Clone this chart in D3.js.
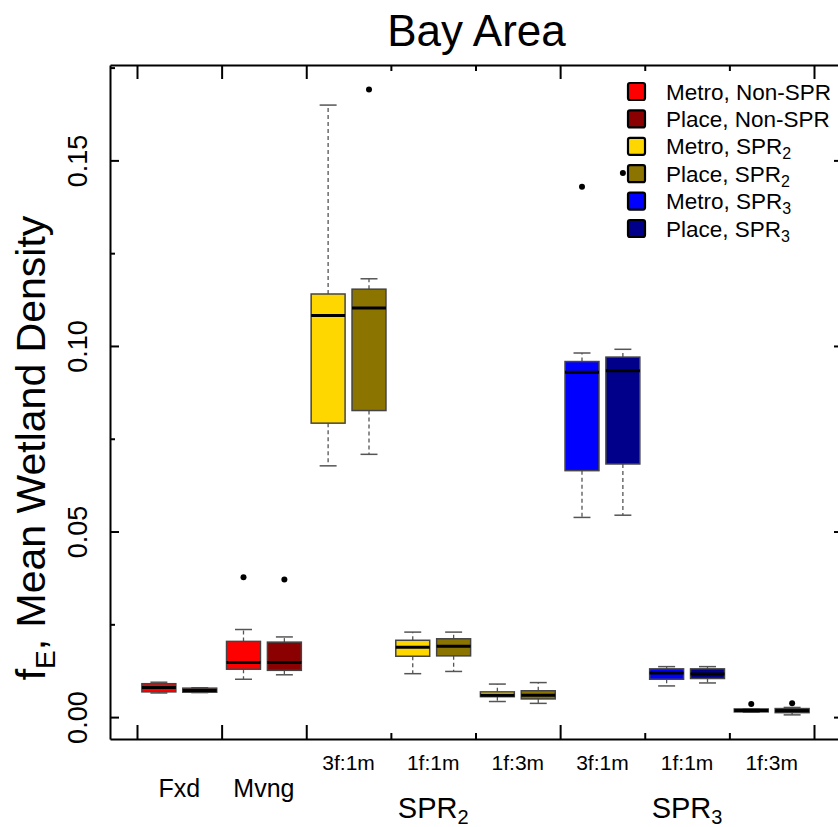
<!DOCTYPE html>
<html lang="en">
<head>
    <meta charset="UTF-8">
    <title>Bay Area</title>
    <script src="https://d3js.org/d3.v7.min.js"></script>
    <style>
        body, html {
            margin: 0;
            padding: 0;
            background: #fff;
            font-family: "Liberation Sans", Arial, sans-serif;
            overflow: hidden;
        }
    </style>
</head>
<body>
    <div id="chart"></div>

    <script>
        // groups along x (two boxes per group: Metro, Place)
        const groupIds = ["Fxd", "Mvng", "S2_3f1m", "S2_1f1m", "S2_1f3m", "S3_3f1m", "S3_1f1m", "S3_1f3m"];
        const groupLabels = ["Fxd", "Mvng", "3f:1m", "1f:1m", "1f:3m", "3f:1m", "1f:1m", "1f:3m"];
        const seriesNames = ["Metro", "Place"];

        // [lower whisker, q1, median, q3, upper whisker]
        const metroBox = [
            [0.0065, 0.0068, 0.0080, 0.0090, 0.0094],
            [0.0102, 0.0129, 0.0147, 0.0204, 0.0236],
            [0.0677, 0.0792, 0.1082, 0.1140, 0.1649],
            [0.0117, 0.0164, 0.0188, 0.0207, 0.0229],
            [0.0042, 0.0055, 0.0059, 0.0068, 0.0089],
            [0.0538, 0.0664, 0.0929, 0.0958, 0.0981],
            [0.0084, 0.0102, 0.0119, 0.0130, 0.0136],
            [0.0013, 0.0014, 0.0018, 0.0022, 0.0022]
        ];
        const placeBox = [
            [0.0066, 0.0067, 0.0072, 0.0078, 0.0079],
            [0.0114, 0.0126, 0.0147, 0.0202, 0.0216],
            [0.0708, 0.0826, 0.1102, 0.1153, 0.1181],
            [0.0123, 0.0165, 0.0191, 0.0211, 0.0229],
            [0.0037, 0.0049, 0.0059, 0.0071, 0.0093],
            [0.0544, 0.0682, 0.0933, 0.0970, 0.0991],
            [0.0092, 0.0104, 0.0116, 0.0130, 0.0136],
            [0.0006, 0.0012, 0.0017, 0.0023, 0.0026]
        ];
        const metroOutliers = [[], [0.0377], [], [], [], [0.1429], [], [0.0035]];
        const placeOutliers = [[], [0.0371], [0.1691], [], [], [0.1466], [], [0.0037]];

        const metroColors = ["#FF0000", "#FF0000", "#FFD700", "#FFD700", "#FFD700", "#0000FF", "#0000FF", "#0000FF"];
        const placeColors = ["#8B0000", "#8B0000", "#8B7500", "#8B7500", "#8B7500", "#00008B", "#00008B", "#00008B"];

        const majorTicks = [0, 0.05, 0.10, 0.15];
        const minorTicks = [0.025, 0.075, 0.125, 0.175];

        const legendItems = [
            {name: "Metro, Non-SPR", sub: "", color: "#FF0000"},
            {name: "Place, Non-SPR", sub: "", color: "#8B0000"},
            {name: "Metro, SPR", sub: "2", color: "#FFD700"},
            {name: "Place, SPR", sub: "2", color: "#8B7500"},
            {name: "Metro, SPR", sub: "3", color: "#0000FF"},
            {name: "Place, SPR", sub: "3", color: "#00008B"}
        ];

        const width = 838, height = 827;
        const frame = {left: 110, right: 843, top: 65, bottom: 739};

        const svg = d3.select("#chart").append("svg")
            .attr("width", width)
            .attr("height", height);

        const x0 = d3.scaleBand().domain(groupIds).range([137, 814]);
        const x1 = d3.scaleBand().domain(seriesNames)
            .range([0, x0.bandwidth()])
            .paddingInner(0.17)
            .paddingOuter(0.12);
        const y = d3.scaleLinear().domain([-0.0059, 0.1757]).range([frame.bottom, frame.top]);
        const xf = d3.scaleLinear().domain([frame.left, frame.right]).range([frame.left, frame.right]);

        // title
        svg.append("text")
            .attr("x", (frame.left + frame.right) / 2)
            .attr("y", 46)
            .attr("text-anchor", "middle")
            .style("font-size", "44px")
            .text("Bay Area");

        // ---- axes ----
        function styleAxis(g) {
            g.selectAll("path.domain").attr("stroke", "#000").attr("stroke-width", 2);
            g.selectAll(".tick line").attr("stroke", "#000").attr("stroke-width", 2);
        }

        const yAxis = svg.append("g")
            .attr("transform", `translate(${frame.left},0)`)
            .call(d3.axisLeft(y).tickValues(majorTicks).tickSize(-9).tickSizeOuter(0)
                .tickFormat(d3.format(".2f")))
            .call(styleAxis);
        yAxis.selectAll(".tick text")
            .attr("dy", null)
            .attr("transform", "rotate(-90)")
            .attr("x", 0)
            .attr("y", -23)
            .attr("text-anchor", "middle")
            .attr("fill", "#000")
            .style("font-size", "27px")
            .style("font-family", "'Liberation Sans', Arial, sans-serif");

        svg.append("g")
            .attr("transform", `translate(${frame.left},0)`)
            .call(d3.axisLeft(y).tickValues(minorTicks).tickSize(-5).tickFormat(""))
            .call(g => g.select(".domain").remove())
            .call(styleAxis);

        // right axis (mirrored, sits just past the edge)
        svg.append("g")
            .attr("transform", `translate(${frame.right},0)`)
            .call(d3.axisRight(y).tickValues(majorTicks).tickSize(-9).tickSizeOuter(0).tickFormat(""))
            .call(styleAxis);
        svg.append("g")
            .attr("transform", `translate(${frame.right},0)`)
            .call(d3.axisRight(y).tickValues(minorTicks).tickSize(-5).tickFormat(""))
            .call(g => g.select(".domain").remove())
            .call(styleAxis);

        // group boundaries on top and bottom
        const bounds = groupIds.map(g => x0(g)).concat([x0.range()[1]]);
        const tallIdx = [0, 1, 2, 5, 8];
        const tallBounds = bounds.filter((b, i) => tallIdx.includes(i));
        const shortBounds = bounds.filter((b, i) => !tallIdx.includes(i));

        [[d3.axisBottom, frame.bottom], [d3.axisTop, frame.top]].forEach(([axisFn, yy]) => {
            svg.append("g")
                .attr("transform", `translate(0,${yy})`)
                .call(axisFn(xf).tickValues(tallBounds).tickSize(-14).tickSizeOuter(0).tickFormat(""))
                .call(styleAxis);
            svg.append("g")
                .attr("transform", `translate(0,${yy})`)
                .call(axisFn(xf).tickValues(shortBounds).tickSize(-6).tickFormat(""))
                .call(g => g.select(".domain").remove())
                .call(styleAxis);
        });

        // x labels
        const subLabelIdx = [2, 3, 4, 5, 6, 7];
        svg.append("g").selectAll("text")
            .data(subLabelIdx)
            .join("text")
            .attr("x", i => x0(groupIds[i]) + x0.bandwidth() / 2)
            .attr("y", 770)
            .attr("text-anchor", "middle")
            .style("font-size", "21px")
            .text(i => groupLabels[i]);

        svg.append("g").selectAll("text")
            .data([0, 1])
            .join("text")
            .attr("x", i => x0(groupIds[i]) + x0.bandwidth() / 2)
            .attr("y", 797)
            .attr("text-anchor", "middle")
            .style("font-size", "25px")
            .text(i => groupLabels[i]);

        [["S2_1f1m", "2"], ["S3_1f1m", "3"]].forEach(([g, sub]) => {
            const t = svg.append("text")
                .attr("x", x0(g) + x0.bandwidth() / 2)
                .attr("y", 818)
                .attr("text-anchor", "middle")
                .style("font-size", "29px");
            t.append("tspan").text("SPR");
            t.append("tspan").attr("dy", 6).style("font-size", "20px").text(sub);
        });

        // y label
        const yl = svg.append("text")
            .attr("transform", "translate(45,448) rotate(-90)")
            .attr("text-anchor", "middle")
            .style("font-size", "41px");
        yl.append("tspan").text("f");
        yl.append("tspan").attr("dy", 10).style("font-size", "28px").text("E");
        yl.append("tspan").attr("dy", -10).text(", Mean Wetland Density");

        // ---- boxes ----
        const boxData = [];
        groupIds.forEach((g, gi) => {
            boxData.push({group: g, series: "Metro", s: metroBox[gi], out: metroOutliers[gi], color: metroColors[gi]});
            boxData.push({group: g, series: "Place", s: placeBox[gi], out: placeOutliers[gi], color: placeColors[gi]});
        });

        const bw = x1.bandwidth();
        const boxes = svg.append("g").selectAll("g")
            .data(boxData)
            .join("g")
            .attr("transform", d => `translate(${x0(d.group) + x1(d.series)},0)`);

        // whiskers
        boxes.append("line")
            .attr("x1", bw / 2).attr("x2", bw / 2)
            .attr("y1", d => y(d.s[3])).attr("y2", d => y(d.s[4]))
            .attr("stroke", "#555").attr("stroke-width", 1.3).attr("stroke-dasharray", "4,3");
        boxes.append("line")
            .attr("x1", bw / 2).attr("x2", bw / 2)
            .attr("y1", d => y(d.s[1])).attr("y2", d => y(d.s[0]))
            .attr("stroke", "#555").attr("stroke-width", 1.3).attr("stroke-dasharray", "4,3");
        // caps
        [0, 4].forEach(k => {
            boxes.append("line")
                .attr("x1", bw / 4).attr("x2", bw * 3 / 4)
                .attr("y1", d => y(d.s[k])).attr("y2", d => y(d.s[k]))
                .attr("stroke", "#555").attr("stroke-width", 1.5);
        });
        // box
        boxes.append("rect")
            .attr("x", 0)
            .attr("width", bw)
            .attr("y", d => y(d.s[3]))
            .attr("height", d => y(d.s[1]) - y(d.s[3]))
            .attr("fill", d => d.color)
            .attr("stroke", "#444")
            .attr("stroke-width", 1.5);
        // median
        boxes.append("line")
            .attr("x1", 0).attr("x2", bw)
            .attr("y1", d => y(d.s[2])).attr("y2", d => y(d.s[2]))
            .attr("stroke", "#000").attr("stroke-width", 3);
        // outliers
        boxes.selectAll("circle")
            .data(d => d.out)
            .join("circle")
            .attr("cx", bw / 2)
            .attr("cy", d => y(d))
            .attr("r", 3)
            .attr("fill", "#000");

        // ---- legend ----
        const legend = svg.append("g").selectAll("g")
            .data(legendItems)
            .join("g")
            .attr("transform", (d, i) => `translate(628,${91.5 + i * 27.4})`);

        legend.append("rect")
            .attr("x", 0).attr("y", -8.5)
            .attr("width", 17).attr("height", 17)
            .attr("rx", 2)
            .attr("fill", d => d.color)
            .attr("stroke", "#000")
            .attr("stroke-width", 2.2);

        const lt = legend.append("text")
            .attr("x", 38)
            .attr("y", 8)
            .style("font-size", "22.5px");
        lt.append("tspan").text(d => d.name);
        lt.filter(d => d.sub).append("tspan")
            .attr("dy", 5)
            .style("font-size", "16px")
            .text(d => d.sub);
    </script>
</body>
</html>
